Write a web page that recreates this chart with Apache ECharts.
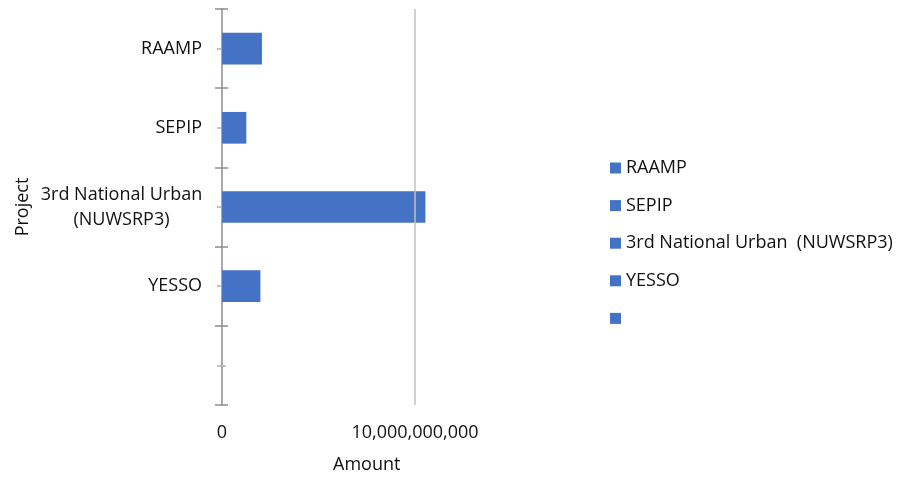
<!DOCTYPE html>
<html>
<head>
<meta charset="utf-8">
<script src="https://cdn.jsdelivr.net/npm/echarts@6/dist/echarts.min.js"></script>
<style>html,body{margin:0;padding:0;background:#fff}#c{width:903px;height:477px}</style>
</head>
<body>
<div id="c"></div>
<script>
var categories = ['RAAMP', 'SEPIP', '3rd National Urban  (NUWSRP3)', 'YESSO', ' '];
var amounts = [2070000000, 1260000000, 10540000000, 1990000000, null];
var xTickLabels = ['0', '10,000,000,000'];
var xAxisTitle = 'Amount';
var yAxisTitle = 'Project';

var FONT = 'Open Sans';
var TXT = '#111111';
var BAR = '#4472C4';

var series = categories.map(function (name, i) {
  return {
    name: name,
    type: 'bar',
    stack: 'all',
    barWidth: '40%',
    itemStyle: { color: BAR },
    data: amounts.map(function (v, j) { return j === i ? v : '-'; })
  };
});
series[0].markLine = {
  silent: true, symbol: 'none', label: { show: false },
  lineStyle: { color: '#bfbfbf', type: 'solid', width: 1.5 },
  data: [{ xAxis: 10000000000 }]
};

function yAx(extra) {
  var base = {
    type: 'category', data: categories, inverse: true, position: 'left',
    axisLine: { show: false }, axisLabel: { show: false }, splitLine: { show: false },
    axisTick: { show: false }
  };
  for (var k in extra) base[k] = extra[k];
  return base;
}

var chart = echarts.init(document.getElementById('c'));
chart.setOption({
  animation: false,
  textStyle: { fontFamily: FONT },
  grid: { left: 222, top: 9, width: 289.5, height: 396, containLabel: false, outerBoundsMode: 'none' },
  legend: {
    orient: 'vertical', left: 605, top: 153, icon: 'rect',
    itemWidth: 11, itemHeight: 11, itemGap: 17.6,
    data: categories,
    textStyle: { fontFamily: FONT, fontSize: 18, color: TXT, lineHeight: 20 }
  },
  xAxis: {
    type: 'value', min: 0, max: 15000000000, interval: 10000000000,
    axisLine: { show: false }, axisTick: { show: false },
    splitLine: { show: false },
    axisLabel: {
      showMaxLabel: false, margin: 19, fontFamily: FONT, fontSize: 18, color: TXT,
      formatter: function (v) { return xTickLabels[Math.round(v / 10000000000)] || ''; }
    },
    name: xAxisTitle, nameLocation: 'middle', nameGap: 51,
    nameTextStyle: { fontFamily: FONT, fontSize: 18, color: TXT }
  },
  yAxis: [
    yAx({
      axisLine: { show: true, lineStyle: { color: '#8c8c8c', width: 1.5 } },
      axisTick: { show: true, length: 7, lineStyle: { color: '#8c8c8c', width: 1.5 } },
      axisLabel: {
        show: true, margin: 20, fontFamily: FONT, fontSize: 18, color: TXT,
        formatter: function (v) {
          var parts = v.split('  ');
          if (parts.length > 1) return parts.map(function (p) { return '{c|' + p + '}'; }).join('\n');
          return v;
        },
        rich: { c: { width: 161, align: 'center', fontFamily: FONT, fontSize: 18, color: TXT, lineHeight: 25 } }
      },
      name: yAxisTitle, nameLocation: 'middle', nameGap: 190, nameRotate: 90,
      nameTextStyle: { fontFamily: FONT, fontSize: 18, color: TXT }
    }),
    yAx({ axisTick: { show: true, inside: true, length: 6, lineStyle: { color: '#8c8c8c', width: 1.5 } } }),
    yAx({ axisTick: { show: true, alignWithLabel: true, length: 5, lineStyle: { color: '#b0b0b0', width: 1.5 } } }),
    yAx({ axisTick: { show: true, alignWithLabel: true, inside: true, length: 4, lineStyle: { color: '#b0b0b0', width: 1.5 } } })
  ],
  series: series
});
</script>
</body>
</html>
